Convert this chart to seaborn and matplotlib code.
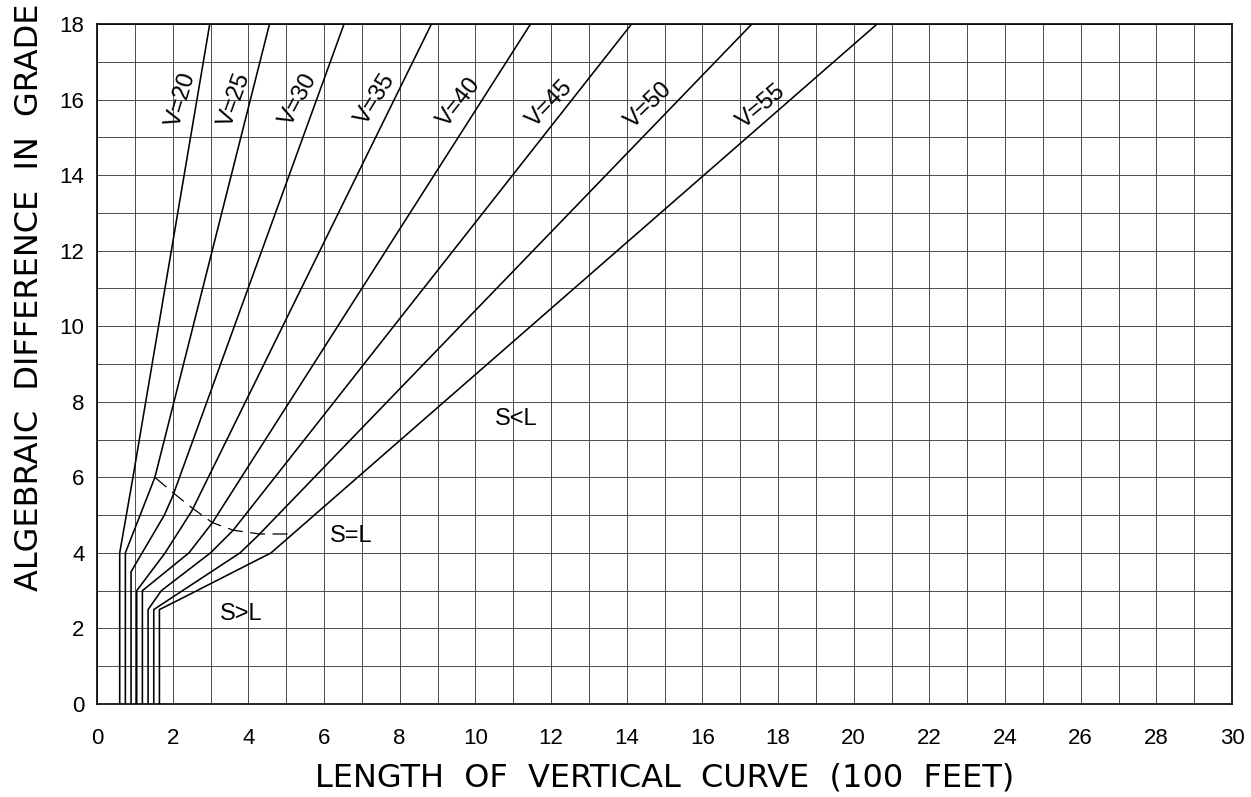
import pandas as pd
import matplotlib
matplotlib.use("Agg")
import matplotlib.pyplot as plt
import seaborn as sns

# Design speeds and the read-off vertices of each curve
# (length of curve in 100 ft, algebraic difference in grade)
speeds = [20, 25, 30, 35, 40, 45, 50, 55]

len_v20 = [0.6, 0.6, 0.95, 2.98]
grd_v20 = [0, 4.0, 6.0, 18]
len_v25 = [0.75, 0.75, 1.53, 4.56]
grd_v25 = [0, 4.0, 6.0, 18]
len_v30 = [0.9, 0.9, 1.78, 2.0, 6.53]
grd_v30 = [0, 3.5, 5.0, 5.5, 18]
len_v35 = [1.05, 1.05, 1.8, 2.5, 8.84]
grd_v35 = [0, 3.0, 4.0, 5.1, 18]
len_v40 = [1.2, 1.2, 2.43, 3.05, 11.46]
grd_v40 = [0, 3.0, 4.0, 4.8, 18]
len_v45 = [1.35, 1.35, 1.7, 3.0, 3.6, 14.13]
grd_v45 = [0, 2.5, 3.0, 4.0, 4.6, 18]
len_v50 = [1.5, 1.5, 3.78, 4.25, 17.31]
grd_v50 = [0, 2.5, 4.0, 4.45, 18]
len_v55 = [1.65, 1.65, 2.15, 4.6, 20.62]
grd_v55 = [0, 2.5, 2.75, 4.0, 18]

# S = L boundary (dashed)
len_sl = [1.53, 2.0, 2.5, 3.05, 3.6, 4.3, 5.1]
grd_sl = [6.0, 5.6, 5.2, 4.8, 4.6, 4.5, 4.5]

# curve label positions and angles
label_len = [2.24, 3.65, 5.32, 7.35, 9.58, 11.96, 14.58, 17.57]
label_grd = [16.0, 16.0, 16.0, 16.0, 15.93, 15.89, 15.85, 15.82]
label_rot = [73, 70, 62, 58, 52, 46, 44, 40]

x_ticks = list(range(0, 31, 2))
y_ticks = list(range(0, 19, 2))

curves = [(len_v20, grd_v20), (len_v25, grd_v25), (len_v30, grd_v30),
          (len_v35, grd_v35), (len_v40, grd_v40), (len_v45, grd_v45),
          (len_v50, grd_v50), (len_v55, grd_v55)]

rows = []
for v, (ls, gs) in zip(speeds, curves):
    for l, g in zip(ls, gs):
        rows.append({"V": v, "L": l, "A": g})
df = pd.DataFrame(rows)

sns.set_theme(style="white")
plt.rcParams['font.family'] = ['DejaVu Sans']
plt.rcParams['text.color'] = 'black'
plt.rcParams['xtick.color'] = 'black'
plt.rcParams['ytick.color'] = 'black'

fig = plt.figure(figsize=(12.51, 7.97), dpi=100)
ax = fig.add_axes([97 / 1251, 1 - 704 / 797, (1232 - 97) / 1251, (704 - 24) / 797])

sns.lineplot(data=df, x="L", y="A", units="V", estimator=None, sort=False,
             color="black", linewidth=1.15, ax=ax, legend=False)
ax.plot(len_sl, grd_sl, color="black", linewidth=0.9, dashes=(12, 6))

for v, lx, ly, rot in zip(speeds, label_len, label_grd, label_rot):
    ax.text(lx, ly, f"V={v}", rotation=rot, rotation_mode="anchor",
            ha="center", va="center", fontsize=17, family="Liberation Sans")

ax.text(11.07, 7.54, "S<L", ha="center", va="center", fontsize=17, family="Liberation Sans")
ax.text(6.73, 4.45, "S=L", ha="center", va="center", fontsize=17, family="Liberation Sans")
ax.text(3.82, 2.38, "S>L", ha="center", va="center", fontsize=17, family="Liberation Sans")

ax.set_xlim(0, 30)
ax.set_ylim(0, 18)
ax.set_xticks(x_ticks)
ax.set_yticks(y_ticks)
ax.set_xticks(range(0, 31), minor=True)
ax.set_yticks(range(0, 19), minor=True)
ax.grid(True, which="both", color="#4a4a4a", linewidth=0.7)
ax.tick_params(which="both", length=0)
ax.tick_params(axis="x", pad=17, labelsize=16)
ax.tick_params(axis="y", pad=9, labelsize=16)
for lab in ax.get_xticklabels() + ax.get_yticklabels():
    lab.set_family("Liberation Sans")
for s in ax.spines.values():
    s.set_color("black")
    s.set_linewidth(1.2)

ax.set_xlabel("")
ax.set_ylabel("")
fig.text(665 / 1251, 1 - 778 / 797, "LENGTH  OF  VERTICAL  CURVE  (100  FEET)",
         ha="center", va="center", fontsize=23)
fig.text(30 / 1251, 1 - 297 / 797, "ALGEBRAIC  DIFFERENCE  IN  GRADE",
         ha="center", va="center", fontsize=23, rotation=90)

fig.savefig("out.png", dpi=100)
